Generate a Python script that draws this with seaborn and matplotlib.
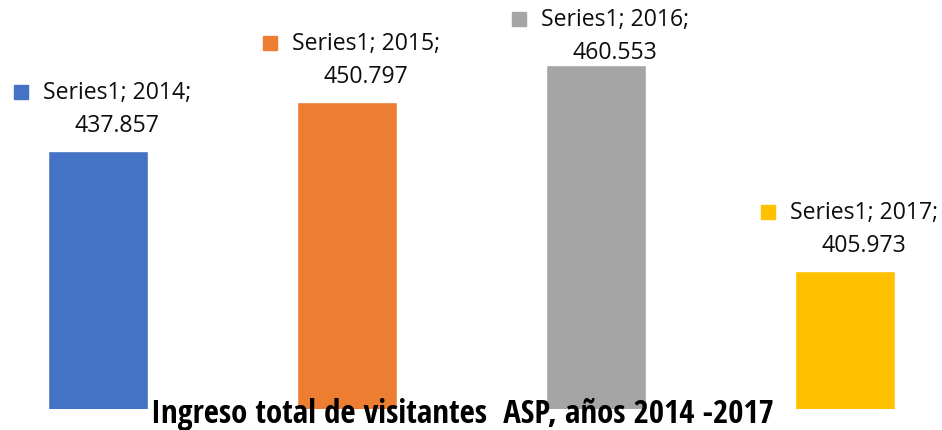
import matplotlib
matplotlib.use("Agg")
import matplotlib.pyplot as plt
from matplotlib import font_manager
import seaborn as sns
import pandas as pd

series_name = "Series1"
years = ["2014", "2015", "2016", "2017"]
values = [437.857, 450.797, 460.553, 405.973]
colors = ["#4472C4", "#ED7D31", "#A5A5A5", "#FFC000"]
title = "Ingreso total de visitantes  ASP, años 2014 -2017"

sns.set_theme(style="white")
names = {f.name for f in font_manager.fontManager.ttflist}
cond = [n for n in ["Open Sans Condensed", "Roboto Condensed", "DejaVu Sans Condensed",
                    "Liberation Sans Narrow"] if n in names]
label_font = "Open Sans"
title_fonts = cond + ["Roboto", "DejaVu Sans"]
plt.rcParams["font.family"] = [label_font, "DejaVu Sans"]

W, H = 942, 431
fig = plt.figure(figsize=(W / 100, H / 100), dpi=100)
ax = fig.add_axes([0, 21 / H, 1, 410 / H])

df = pd.DataFrame({"year": years, "value": values})
sns.barplot(data=df, x="year", y="value", hue="year", palette=colors,
            width=0.4, legend=False, ax=ax, saturation=1)
ax.set_xlim(-0.394, 3.39)
ax.set_ylim(369.3, 478.2)
ax.axis("off")

fig.canvas.draw()
renderer = fig.canvas.get_renderer()

for i, (yr, v, c) in enumerate(zip(years, values, colors)):
    px = ax.transData.transform((i, v))
    top_from_top = H - px[1]
    line2_y = max(top_from_top - 26, 53)
    line1_y = line2_y - 33
    xc = px[0] + 19
    t1 = fig.text(xc / W, 1 - line1_y / H, f"{series_name}; {yr};",
                  ha="center", va="center", fontsize=16.6, color="#0d0d0d")
    fig.text(xc / W, 1 - line2_y / H, f"{v:.3f}",
             ha="center", va="center", fontsize=16.6, color="#0d0d0d")
    bb = t1.get_window_extent(renderer)
    sq = 14
    x0 = bb.x0 - 15 - sq
    y0 = (H - line1_y) - sq / 2
    fig.patches.append(plt.Rectangle((x0 / W, y0 / H), sq / W, sq / H,
                                     transform=fig.transFigure, color=c))

tt = fig.text(462 / W, 1 - 415 / H, title, ha="center", va="center",
              fontsize=18, fontweight="bold", family=title_fonts, color="#000000")
w = tt.get_window_extent(renderer).width
tt.set_fontsize(18 * 625 / w)

fig.savefig("out.png", dpi=100)
